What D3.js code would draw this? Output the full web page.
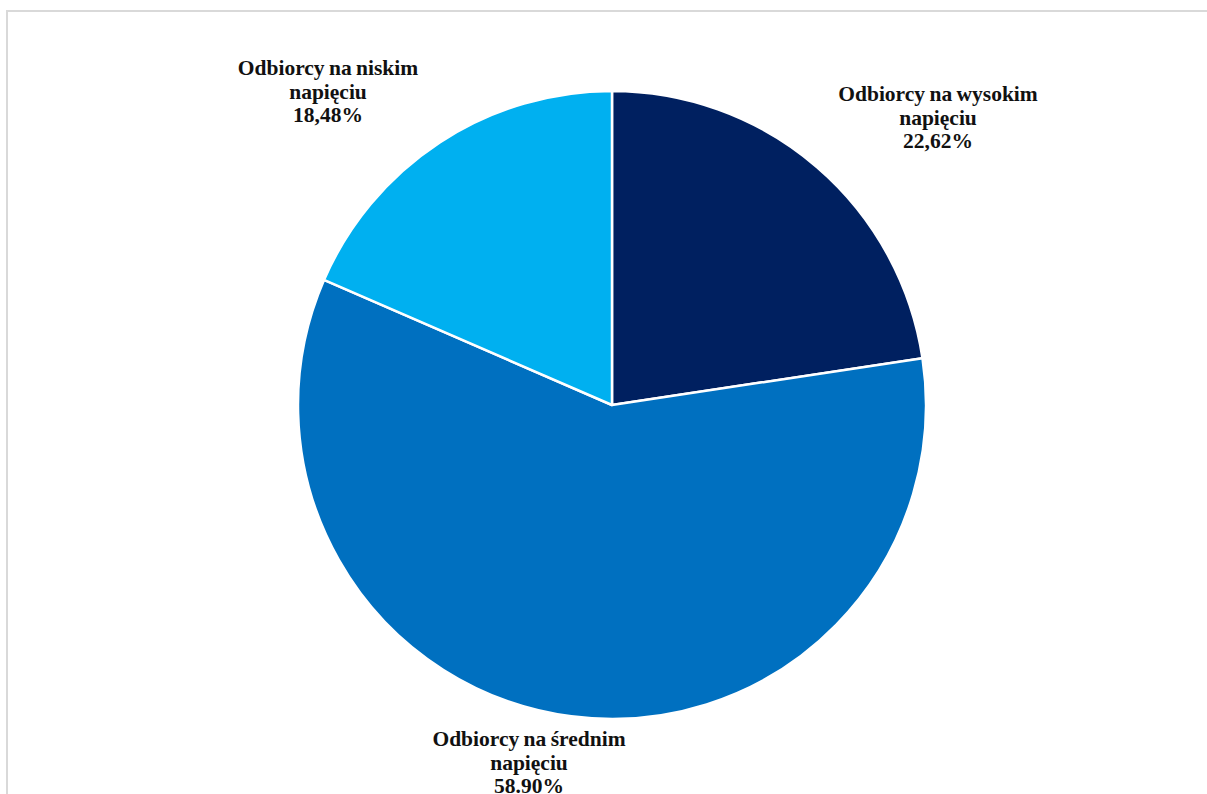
<!DOCTYPE html>
<html>
<head>
<meta charset="utf-8">
<script src="https://cdn.jsdelivr.net/npm/d3@7"></script>
<style>
  html, body { margin: 0; padding: 0; background: #fff; }
  svg { display: block; }
</style>
</head>
<body>
<svg id="chart" width="1207" height="794"></svg>
<script>
const categories = ["Odbiorcy na wysokim napięciu", "Odbiorcy na średnim napięciu", "Odbiorcy na niskim napięciu"];
const labelLines = [["Odbiorcy na wysokim", "napięciu"], ["Odbiorcy na średnim", "napięciu"], ["Odbiorcy na niskim", "napięciu"]];
const values = [22.62, 58.90, 18.48];
const valueLabels = ["22,62%", "58.90%", "18,48%"];
const colors = ["#002060", "#0070C0", "#00B0F0"];

const svg = d3.select("#chart");
const W = 1207, H = 794;

// chart border
svg.append("rect")
  .attr("x", 7).attr("y", 11)
  .attr("width", W + 10).attr("height", H + 10)
  .attr("fill", "#fff")
  .attr("stroke", "#d9d9d9").attr("stroke-width", 2);

const cx = 612, cy = 405, r = 314;
const pie = d3.pie().sort(null).value(d => d)(values);
const arc = d3.arc().innerRadius(0).outerRadius(r);

const g = svg.append("g").attr("transform", `translate(${cx},${cy})`);
g.selectAll("path").data(pie).join("path")
  .attr("d", arc)
  .attr("fill", (d, i) => colors[i])
  .attr("stroke", "#fff").attr("stroke-width", 2.5)
  .attr("stroke-linejoin", "round");

const labelPos = [
  { x: 938, y: 101 },
  { x: 529, y: 746 },
  { x: 328, y: 75 }
];
const lh = 23.5;
pie.forEach((d, i) => {
  const t = svg.append("text")
    .attr("text-anchor", "middle")
    .attr("font-family", "'Liberation Serif', 'Times New Roman', serif")
    .attr("font-weight", "bold")
    .attr("font-size", 21.5)
    .attr("word-spacing", -1)
    .attr("fill", "#111");
  const lines = [...labelLines[i], valueLabels[i]];
  lines.forEach((s, k) => {
    t.append("tspan").attr("x", labelPos[i].x).attr("y", labelPos[i].y + k * lh).text(s);
  });
});
</script>
</body>
</html>
